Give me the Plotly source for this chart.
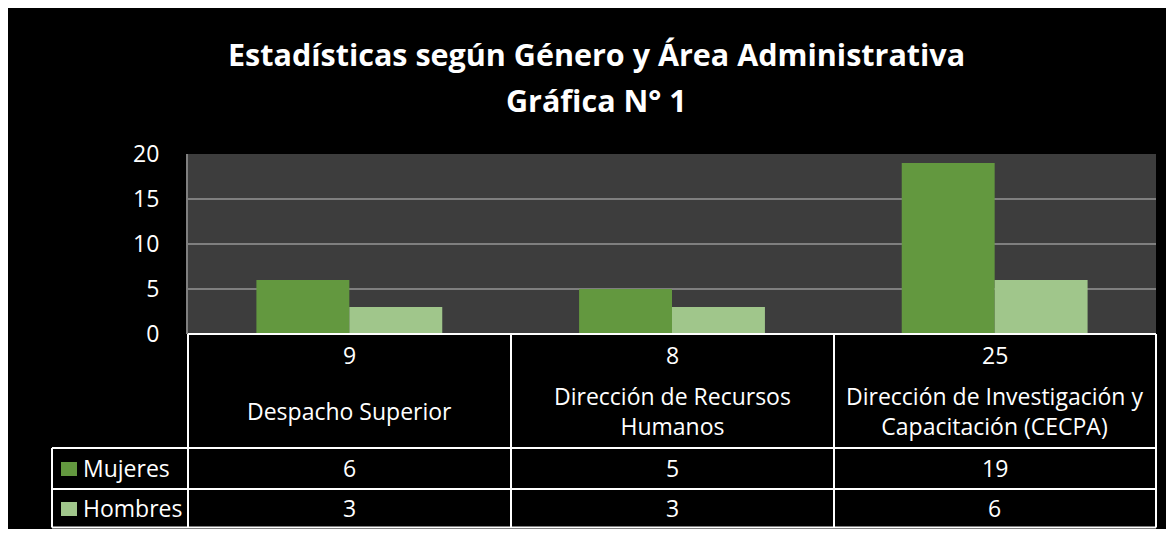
import plotly.graph_objects as go

# ---- data ----
categories = ["Despacho Superior", "Dirección de Recursos<br>Humanos",
              "Dirección de Investigación y<br>Capacitación (CECPA)"]
series_names = ["Mujeres", "Hombres"]
mujeres = [6, 5, 19]
hombres = [3, 3, 6]
y_ticks = [0, 5, 10, 15, 20]
title_lines = ["Estadísticas según Género y Área Administrativa", "Gráfica N° 1"]
colors = ["#63983f", "#a0c68b"]

# page body has an 8px margin, so the figure is shrunk to fit the window
OFF = 8
W, H = 1174 - 2 * OFF, 537 - 2 * OFF
FONT = "'Open Sans', Lato, sans-serif"


def px(x):
    return (x - OFF) / W


def py(y):
    return 1 - (y - OFF) / H


x_idx = list(range(len(categories)))
totals = [m + h for m, h in zip(mujeres, hombres)]

fig = go.Figure()
fig.add_trace(go.Bar(x=x_idx, y=mujeres, name=series_names[0],
                     marker=dict(color=colors[0], line=dict(width=0))))
fig.add_trace(go.Bar(x=x_idx, y=hombres, name=series_names[1],
                     marker=dict(color=colors[1], line=dict(width=0))))

shapes = []
line_w = dict(color="white", width=2)
TB = 527.5  # bottom of table (kept inside the figure)
# table lines
for yy, x0 in [(334, 188), (448, 52), (489, 52), (TB, 52)]:
    shapes.append(dict(type="line", xref="paper", yref="paper", x0=px(x0), x1=px(1156),
                       y0=py(yy), y1=py(yy), line=line_w))
for xx in [188, 511, 834, 1156]:
    shapes.append(dict(type="line", xref="paper", yref="paper", x0=px(xx), x1=px(xx),
                       y0=py(334), y1=py(TB), line=line_w))
shapes.append(dict(type="line", xref="paper", yref="paper", x0=px(52), x1=px(52),
                   y0=py(448), y1=py(TB), line=line_w))
# legend swatches
for i, yy in enumerate([469, 509]):
    shapes.append(dict(type="rect", xref="paper", yref="paper", x0=px(61), x1=px(77),
                       y0=py(yy + 7), y1=py(yy - 7), fillcolor=colors[i], line=dict(width=0)))

ann = []
tf = dict(family=FONT, size=23, color="white")
for i in x_idx:
    ann.append(dict(x=i, xref="x", y=py(355), yref="paper", text=str(totals[i]),
                    showarrow=False, font=tf, xanchor="center", yanchor="middle"))
    ann.append(dict(x=i, xref="x", y=py(411), yref="paper", text=categories[i],
                    showarrow=False, font=tf, xanchor="center", yanchor="middle"))
    ann.append(dict(x=i, xref="x", y=py(468), yref="paper", text=str(mujeres[i]),
                    showarrow=False, font=tf, xanchor="center", yanchor="middle"))
    ann.append(dict(x=i, xref="x", y=py(508), yref="paper", text=str(hombres[i]),
                    showarrow=False, font=tf, xanchor="center", yanchor="middle"))
for name, yy in zip(series_names, [468, 508]):
    ann.append(dict(x=px(81), xref="paper", y=py(yy), yref="paper", text=name,
                    showarrow=False, font=tf, xanchor="left", yanchor="middle"))
# title
for txt, yy in zip(title_lines, [54, 100]):
    ann.append(dict(x=px(596), xref="paper", y=py(yy), yref="paper", text=txt,
                    showarrow=False, font=dict(family=FONT, size=30.5, color="white", weight="bold"),
                    xanchor="center", yanchor="middle"))

fig.update_layout(
    width=W, height=H,
    margin=dict(l=0, r=0, t=0, b=0, pad=0, autoexpand=False),
    paper_bgcolor="black",
    plot_bgcolor="#3d3d3d",
    barmode="group", bargap=0.424, bargroupgap=0,
    showlegend=False,
    shapes=shapes,
    annotations=ann,
    xaxis=dict(domain=[px(188), px(1156)], range=[-0.5, len(categories) - 0.5],
               showticklabels=False, showgrid=False, zeroline=False, showline=False,
               fixedrange=True, automargin=False),
    yaxis=dict(domain=[py(334), py(154)], range=[0, 20], tickvals=y_ticks,
               showgrid=True, gridcolor="#7f7f7f", gridwidth=2, zeroline=False,
               showline=True, linecolor="#7f7f7f", linewidth=2,
               tickfont=dict(family=FONT, size=23, color="white"),
               ticks="", ticklabelstandoff=22, fixedrange=True, automargin=False),
)

fig.write_html("out.html")
